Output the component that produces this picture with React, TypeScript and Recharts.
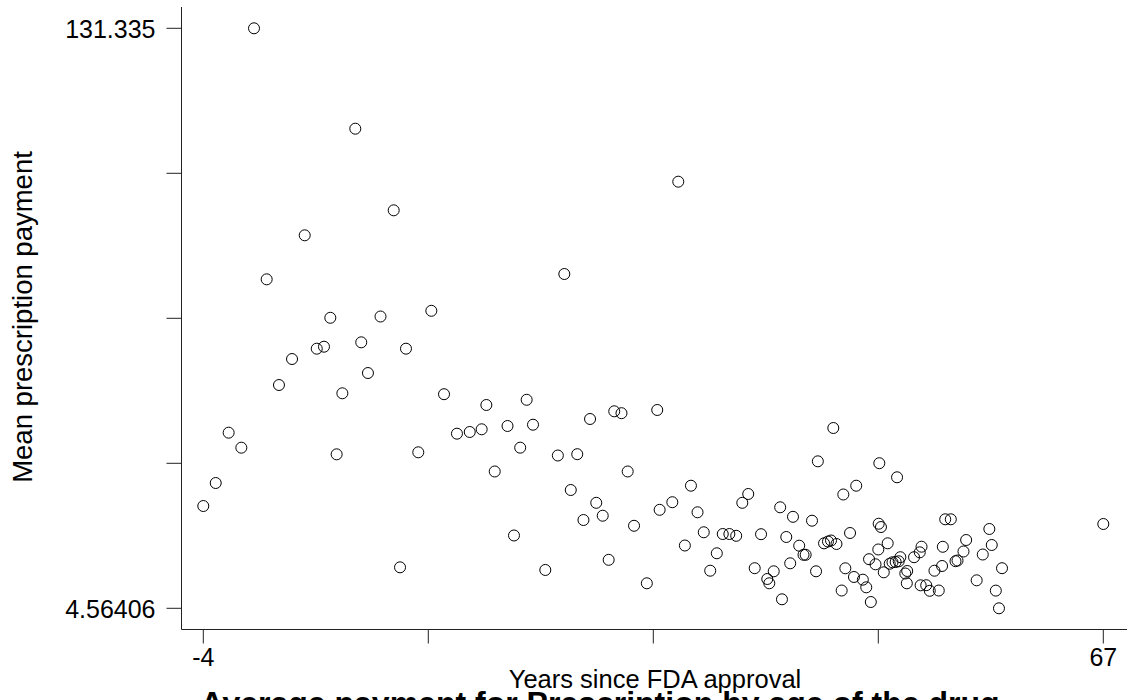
import { ScatterChart, Scatter, XAxis, YAxis, Label } from "recharts";

// Years since FDA approval, one entry per drug
const years = [
  -4, -3.02, -2.0, -1.0, 0.0, 1.0, 1.97, 3.0, 4.0, 4.95,
  5.52, 6.02, 6.52, 6.97, 7.99, 8.46, 8.99, 9.98, 11.02, 11.52,
  11.99, 12.96, 13.99, 14.99, 16.01, 17.02, 17.96, 18.33, 18.99, 20.0,
  20.51, 21.0, 21.51, 22.01, 22.98, 23.97, 24.48, 24.99, 25.5, 25.99,
  26.51, 27.0, 27.51, 27.98, 28.42, 28.99, 29.48, 29.98, 30.99, 31.81,
  32.0, 33.0, 33.47, 33.99, 34.47, 34.99, 35.48, 35.99, 36.51, 36.98,
  37.5, 38.04, 38.52, 38.99, 39.5, 40.0, 40.49, 40.65, 41.0, 41.51,
  41.65, 41.99, 42.3, 42.52, 43.01, 43.35, 43.52, 44.02, 44.34, 44.48,
  44.97, 45.28, 45.52, 45.95, 45.7, 46.36, 46.49, 46.65, 47.02, 47.33,
  47.51, 48.03, 48.3, 48.52, 48.66, 49.03, 49.25, 49.28, 49.33, 49.46,
  49.68, 49.99, 50.15, 50.37, 50.62, 50.86, 50.99, 50.73, 51.38, 51.53,
  51.5, 52.07, 52.52, 52.66, 52.59, 53.03, 53.31, 53.68, 54.02, 54.28,
  54.34, 54.53, 54.97, 55.34, 55.5, 55.97, 56.18, 57.01, 57.49, 58.01,
  58.2, 58.52, 58.77, 59.01, 67,
];

// Mean prescription payment for the same drugs
const payments = [
  26.92, 31.95, 42.95, 39.67, 131.335, 76.47, 53.37, 59.05, 86.09, 61.31,
  61.74, 68.06, 38.22, 51.56, 109.39, 62.7, 55.99, 68.34, 91.55, 13.52,
  61.31, 38.66, 69.59, 51.36, 42.73, 43.1, 43.69, 49.0, 34.47, 44.41,
  20.48, 39.67, 50.14, 44.69, 12.94, 37.96, 77.63, 30.42, 38.25, 23.86,
  45.94, 27.62, 24.8, 15.16, 47.62, 47.21, 34.47, 22.6, 10.03, 47.91,
  26.09, 27.75, 97.81, 18.29, 31.36, 25.55, 21.18, 12.78, 16.59, 20.8,
  20.8, 20.41, 27.62, 29.55, 13.33, 20.76, 10.97, 10.03, 12.65, 26.64,
  6.53, 20.15, 14.4, 24.56, 18.25, 16.26, 16.26, 23.71, 12.65, 36.69,
  18.77, 19.16, 19.38, 18.62, 43.97, 8.45, 29.44, 13.31, 21.02, 11.41,
  31.36, 10.82, 9.15, 15.3, 5.94, 14.18, 17.42, 23.05, 36.28, 22.33,
  12.43, 18.77, 14.31, 14.62, 14.68, 14.84, 15.73, 33.2, 12.17, 12.72,
  10.03, 15.73, 16.8, 18.03, 9.59, 9.61, 8.39, 12.78, 8.45, 13.81,
  18.01, 24.02, 24.02, 14.86, 15.01, 16.98, 19.49, 10.68, 16.32, 21.9,
  18.4, 8.43, 4.56406, 13.33, 22.99,
];

const xTicks = [-4, 13.75, 31.5, 49.25, 67];
const xTickLabels = ["-4", "", "", "", "67"];
const yTicks = [4.56406, 36.25679, 67.94953, 99.64226, 131.335];
const yTickLabels = ["4.56406", "", "", "", "131.335"];

const data = years.map((x, i) => ({ x, y: payments[i] }));

const FONT = "'Liberation Sans', Arial, sans-serif";
const AXIS = "#222";

const XTick = (props: any) => {
  const label = xTickLabels[xTicks.indexOf(props.payload.value)];
  if (!label) return null;
  return (
    <text x={props.x} y={props.y} dy={17.75} textAnchor="middle" fontSize={25} fontFamily={FONT} fill="#000">
      {label}
    </text>
  );
};

const YTick = (props: any) => {
  const label = yTickLabels[yTicks.indexOf(props.payload.value)];
  if (!label) return null;
  return (
    <text x={props.x} y={props.y} dy={10} textAnchor="end" fontSize={25} fontFamily={FONT} fill="#000">
      {label}
    </text>
  );
};

// hollow circle markers
const Ring = (props: any) => (
  <circle cx={props.cx} cy={props.cy} r={5.5} fill="none" stroke="#000" strokeWidth={1} />
);

export default function App() {
  return (
    <div style={{ position: "absolute", left: 0, top: 0, width: 1128, height: 700, overflow: "hidden", background: "#fff" }}>
      <ScatterChart width={1128} height={700} margin={{ top: 7, right: 1, bottom: 0, left: 0 }}>
        <XAxis
          type="number"
          dataKey="x"
          domain={[-4, 67]}
          ticks={xTicks}
          interval={0}
          height={70.5}
          tickSize={14}
          tickMargin={5}
          padding={{ left: 21.8, right: 23.7 }}
          axisLine={{ stroke: AXIS }}
          tickLine={{ stroke: AXIS }}
          tick={XTick}
        >
          <Label
            content={() => (
              <g fontFamily={FONT} fill="#000">
                <text x={655} y={688} textAnchor="middle" fontSize={25.5}>
                  Years since FDA approval
                </text>
                <text x={600} y={714} textAnchor="middle" fontSize={32} fontWeight="bold">
                  Average payment for Prescription by age of the drug
                </text>
              </g>
            )}
          />
        </XAxis>
        <YAxis
          type="number"
          dataKey="y"
          domain={[4.56406, 131.335]}
          ticks={yTicks}
          interval={0}
          width={181.5}
          tickSize={15}
          tickMargin={11}
          padding={{ top: 21.3, bottom: 21.2 }}
          axisLine={{ stroke: AXIS }}
          tickLine={{ stroke: AXIS }}
          tick={YTick}
        >
          <Label
            content={() => (
              <text x={32} y={317} transform="rotate(-90 32 317)" textAnchor="middle" fontSize={27.5} fontFamily={FONT} fill="#000">
                Mean prescription payment
              </text>
            )}
          />
        </YAxis>
        <Scatter data={data} shape={Ring} isAnimationActive={false} />
      </ScatterChart>
    </div>
  );
}
